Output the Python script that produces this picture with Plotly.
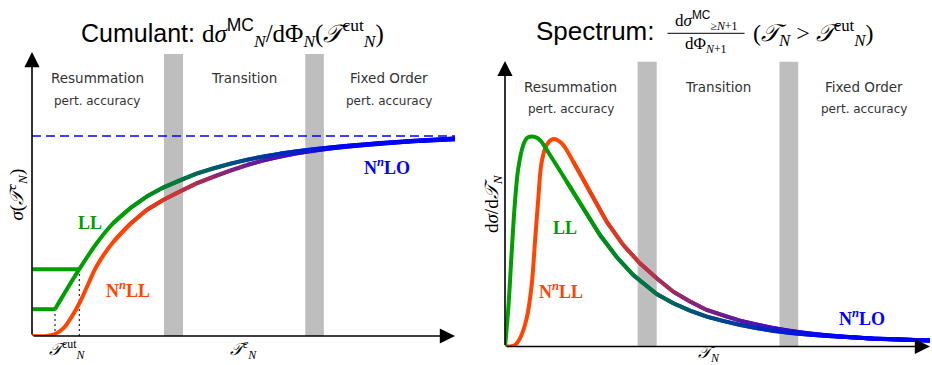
import plotly.graph_objects as go

W, H = 932, 365

# ---------------- data (schematic units) ----------------
band_edges = [[3.12, 3.57], [6.46, 6.90]]
region_titles = ["Resummation", "Transition", "Fixed Order"]
region_subtitles = ["pert. accuracy", "", "pert. accuracy"]

# Cumulant panel
cum_asymptote = 1.0
cum_ll_step_x = [0.544, 1.118]
cum_ll_step_y = [0.134, 0.334]
cum_ll_x = [0.544, 1.118, 1.53, 1.92, 2.32, 2.71, 3.10, 3.50, 3.89, 4.29, 4.68, 5.08,
            5.47, 5.86, 6.26, 6.65, 7.04, 7.44, 8.23, 9.01, 10.0]
cum_ll_y = [0.134, 0.334, 0.464, 0.564, 0.639, 0.697, 0.742, 0.779, 0.812, 0.839, 0.862, 0.882,
            0.898, 0.912, 0.924, 0.934, 0.943, 0.951, 0.965, 0.976, 0.987]
cum_nll_x = [0, 0.35, 0.544, 0.74, 0.94, 1.135, 1.33, 1.53, 1.92, 2.32, 2.71, 3.10, 3.50, 3.89,
             4.29, 4.68, 5.08, 5.47, 5.86, 6.26, 6.65, 7.04, 7.44, 8.23, 9.01, 10.0]
cum_nll_y = [0, 0, 0.01, 0.038, 0.097, 0.17, 0.26, 0.35, 0.47, 0.56, 0.63, 0.68, 0.724, 0.763,
             0.797, 0.827, 0.856, 0.879, 0.898, 0.914, 0.927, 0.938, 0.947, 0.962, 0.974, 0.984]

# Spectrum panel
spec_ll_x = [0, 0.078, 0.158, 0.235, 0.313, 0.431, 0.518, 0.628, 0.729, 0.824, 1.059, 1.452,
             1.842, 2.235, 2.628, 3.019, 3.569, 3.960, 4.353, 4.746, 5.138, 5.529, 5.922,
             6.313, 6.706, 7.099, 7.489, 7.882, 8.666, 10.0]
spec_ll_y = [0, 0.182, 0.451, 0.69, 0.849, 0.96, 0.993, 1.0, 0.996, 0.983, 0.912, 0.785,
             0.658, 0.531, 0.426, 0.340, 0.250, 0.206, 0.171, 0.142, 0.121, 0.102, 0.087,
             0.074, 0.064, 0.057, 0.051, 0.047, 0.038, 0.029]
spec_nll_x = [0, 0.118, 0.235, 0.353, 0.51, 0.628, 0.706, 0.784, 0.864, 0.981, 1.136, 1.334,
              1.607, 2.0, 2.393, 2.784, 3.176, 3.569, 3.96, 4.353, 4.746, 5.138, 5.529, 5.922,
              6.313, 6.706, 7.099, 7.489, 7.882, 8.666, 10.0]
spec_nll_y = [0, 0.0, 0.007, 0.039, 0.134, 0.293, 0.499, 0.706, 0.88, 0.96, 0.988, 0.968,
              0.88, 0.737, 0.594, 0.483, 0.396, 0.325, 0.261, 0.214, 0.174, 0.147, 0.123,
              0.104, 0.087, 0.074, 0.063, 0.055, 0.048, 0.037, 0.028]

# ---------------- styles ----------------
GREEN = (0, 158, 0)
RED = (255, 69, 0)
BLUE = (0, 0, 255)
LW = 4
SERIF = "Liberation Serif"
SANS = "Liberation Sans"
LABEL_FONT = "DejaVu Sans"
LABEL_COLOR = "#333"


def rgb(c):
    return "rgb(%d,%d,%d)" % tuple(int(round(v)) for v in c)


def mix(c, t):
    return rgb([a + (b - a) * t for a, b in zip(c, BLUE)])


fig = go.Figure()


def px_x(p):
    return p / W


def px_y(p):
    return 1 - p / H

L_Y0, L_YTOP = 336, 52
R_Y0, R_YTOP = 346.5, 60.9
ax_common = dict(visible=False, showgrid=False, zeroline=False, fixedrange=True)
fig.update_layout(
    xaxis=dict(domain=[px_x(32), px_x(455)], range=[0, 10], anchor="y", **ax_common),
    yaxis=dict(domain=[px_y(L_Y0), px_y(L_YTOP)], range=[0, 1.42], anchor="x", **ax_common),
    xaxis2=dict(domain=[px_x(505), px_x(930)], range=[0, 10], anchor="y2", **ax_common),
    yaxis2=dict(domain=[px_y(R_Y0), px_y(R_YTOP)], range=[0, 1.36], anchor="x2", **ax_common),
)

shapes = []
for xa, ya, top in (("x", "y", 1.41), ("x2", "y2", 1.356)):
    for b in band_edges:
        shapes.append(dict(type="rect", xref=xa, yref=ya, x0=b[0], x1=b[1], y0=0, y1=top,
                           fillcolor="rgb(190,190,190)", line=dict(width=0), layer="below"))
shapes.append(dict(type="line", xref="x", yref="y", x0=0, x1=10, y0=cum_asymptote, y1=cum_asymptote,
                   line=dict(color=rgb(BLUE), width=1.5, dash="9px,5px"), layer="below"))
for sx, sy in zip(cum_ll_step_x, cum_ll_step_y):
    shapes.append(dict(type="line", xref="x", yref="y", x0=sx, x1=sx, y0=0, y1=sy,
                       line=dict(color="black", width=1, dash="2px,3px"), layer="below"))
shapes.append(dict(type="line", xref="paper", yref="paper", x0=px_x(667.5), x1=px_x(744.5),
                   y0=px_y(33.3), y1=px_y(33.3), line=dict(color="black", width=1)))
fig.update_layout(shapes=shapes)


def add_curve(xs, ys, c0, g0, g1, xa, ya):
    k = max(i for i, x in enumerate(xs) if x <= g0)
    fig.add_trace(go.Scatter(x=xs[:k + 2], y=ys[:k + 2], mode="lines", xaxis=xa, yaxis=ya,
                             line=dict(color=rgb(c0), width=LW, shape="spline"),
                             hoverinfo="skip", showlegend=False))
    for i in range(k, len(xs) - 1):
        xm = 0.5 * (xs[i] + xs[i + 1])
        t = min(1.0, max(0.0, (xm - g0) / (g1 - g0)))
        fig.add_trace(go.Scatter(x=xs[i:i + 3], y=ys[i:i + 3], mode="lines", xaxis=xa, yaxis=ya,
                                 line=dict(color=mix(c0, t), width=LW),
                                 hoverinfo="skip", showlegend=False))

for sx, sy in zip(cum_ll_step_x, cum_ll_step_y):
    fig.add_trace(go.Scatter(x=[0, sx], y=[sy, sy], mode="lines", xaxis="x", yaxis="y",
                             line=dict(color=rgb(GREEN), width=LW), hoverinfo="skip", showlegend=False))

add_curve(cum_nll_x, cum_nll_y, RED, 2.2, 7.28, "x", "y")
add_curve(cum_ll_x, cum_ll_y, GREEN, 2.2, 7.28, "x", "y")
add_curve(spec_nll_x, spec_nll_y, RED, 1.65, 7.65, "x2", "y2")
add_curve(spec_ll_x, spec_ll_y, GREEN, 1.65, 7.65, "x2", "y2")

ann = []


def arrow(xa, ya, x0, y0, x1, y1):
    ann.append(dict(xref=xa, yref=ya, axref=xa, ayref=ya, x=x1, y=y1, ax=x0, ay=y0, text="",
                    showarrow=True, arrowhead=2, arrowsize=1.9, arrowwidth=1.6, arrowcolor="black",
                    standoff=0, startstandoff=0))

arrow("x", "y", 0, 0, 10, 0)
arrow("x", "y", 0, 0, 0, 1.42)
arrow("x2", "y2", 0, 0, 10, 0)
arrow("x2", "y2", 0, 0, 0, 1.36)


def text(x, y, s, size, color="black", family=SERIF, xref="paper", yref="paper", angle=0):
    ann.append(dict(x=x, y=y, xref=xref, yref=yref, text=s, showarrow=False, textangle=angle,
                    font=dict(size=size, color=color, family=family),
                    xanchor="center", yanchor="middle"))

T = "𝒯"
for xa, ya, ytop, ysub, xs in (("x", "y", 1.29, 1.175, [1.54, 5.0, 8.44]),
                               ("x2", "y2", 1.237, 1.131, [1.55, 5.02, 8.45])):
    for xc, t1, t2 in zip(xs, region_titles, region_subtitles):
        text(xc, ytop, t1, 13.5, LABEL_COLOR, LABEL_FONT, xa, ya)
        if t2:
            text(xc, ysub, t2, 12, LABEL_COLOR, LABEL_FONT, xa, ya)

NNLL = "<b>N<sup><i>n</i></sup>LL</b>"
NNLO = "<b>N<sup><i>n</i></sup>LO</b>"
text(1.37, 0.565, "<b>LL</b>", 18, rgb(GREEN), SERIF, "x", "y")
text(2.26, 0.235, NNLL, 18, rgb(RED), SERIF, "x", "y")
text(8.39, 0.85, NNLO, 18, rgb(BLUE), SERIF, "x", "y")
text(1.41, 0.564, "<b>LL</b>", 18, rgb(GREEN), SERIF, "x2", "y2")
text(1.306, 0.269, NNLL, 18, rgb(RED), SERIF, "x2", "y2")
text(8.40, 0.136, NNLO, 18, rgb(BLUE), SERIF, "x2", "y2")

text(px_x(67), px_y(349.5), f"<i>{T}</i><sup>cut</sup><sub><i>N</i></sub>", 17)
text(px_x(243), px_y(349.5), f"<i>{T}</i><sup><i>c</i></sup><sub><i>N</i></sub>", 17)
text(px_x(709), px_y(354), f"<i>{T}</i><sub><i>N</i></sub>", 17)
text(px_x(16.5), px_y(195), f"<i>σ</i>(<i>{T}</i><sup><i>c</i></sup><sub><i>N</i></sub>)", 19, angle=-90)
text(px_x(493), px_y(204), f"d<i>σ</i>/d<i>{T}</i><sub><i>N</i></sub>", 19, angle=-90)

text(px_x(232), px_y(33),
     f"<span style='font-family:{SANS}'>Cumulant: </span>d<i>σ</i><sup><span style='font-family:{SANS}'>MC</span></sup><sub><i>N</i></sub>/dΦ<sub><i>N</i></sub>(<i>{T}</i><sup>cut</sup><sub><i>N</i></sub>)",
     25)
text(px_x(595), px_y(31), "Spectrum:", 26, family=SANS)
text(px_x(706), px_y(20),
     f"d<i>σ</i><sup><span style='font-family:{SANS}'>MC</span></sup><sub>≥<i>N</i>+1</sub>", 17)
text(px_x(706), px_y(45), "dΦ<sub><i>N</i>+1</sub>", 17)
text(px_x(813), px_y(33), f"(<i>{T}</i><sub><i>N</i></sub> &gt; <i>{T}</i><sup>cut</sup><sub><i>N</i></sub>)", 24)

fig.update_layout(annotations=ann, width=W, height=H, margin=dict(l=0, r=0, t=0, b=0),
                  paper_bgcolor="white", plot_bgcolor="white", showlegend=False,
                  hovermode=False)

fig.write_html("out.html", config={"displayModeBar": False})
